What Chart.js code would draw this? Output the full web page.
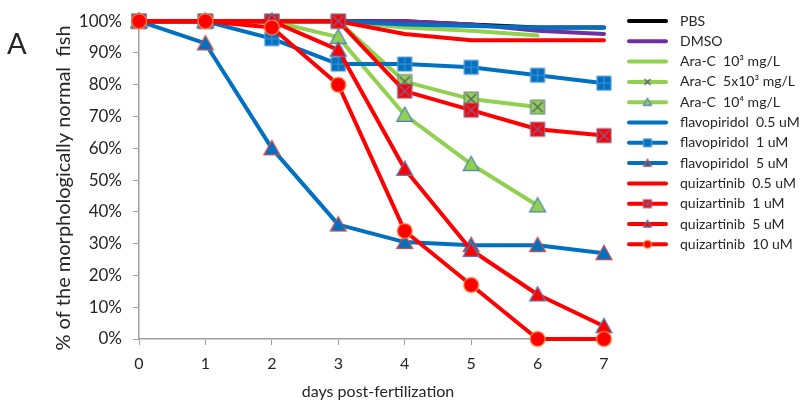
<!DOCTYPE html>
<html>
<head>
<meta charset="utf-8">
<script src="https://cdn.jsdelivr.net/npm/chart.js@4.4.0/dist/chart.umd.min.js"></script>
<style>
  html, body { margin: 0; padding: 0; background: #fff; }
  #wrap { width: 802px; height: 406px; }
</style>
</head>
<body>
<div id="wrap"><canvas id="chart" width="802" height="406"></canvas></div>
<script>
// days post-fertilization (x axis)
const days = [0, 1, 2, 3, 4, 5, 6, 7];

// % of morphologically normal fish
const pbs     = [100, 100, 100, 100, 100, 99, 98, 98];
const dmso    = [100, 100, 100, 100, 100, 99, 97, 96];
const araC1   = [100, 100, 100, 100, 98, 97, 95.5];
const araC5   = [100, 100, 100, 100, 81, 75.5, 73];
const araC10  = [100, 100, 100, 95, 70.5, 55, 42];
const flavo05 = [100, 100, 100, 100, 99, 98.5, 98, 98];
const flavo1  = [100, 100, 94.5, 86.5, 86.5, 85.5, 83, 80.5];
const flavo5  = [100, 93, 60, 36, 30.5, 29.5, 29.5, 27];
const quiz05  = [100, 100, 100, 100, 96, 94, 94, 94];
const quiz1   = [100, 100, 100, 100, 78, 72, 66, 64];
const quiz5   = [100, 100, 100, 91, 53.5, 28, 14, 4];
const quiz10  = [100, 100, 98, 80, 34, 17, 0, 0];

const labels = ['PBS', 'DMSO', 'Ara-C  10³ mg/L', 'Ara-C  5x10³ mg/L', 'Ara-C  10⁴ mg/L',
    'flavopiridol  0.5 uM', 'flavopiridol  1 uM', 'flavopiridol  5 uM',
    'quizartinib  0.5 uM', 'quizartinib  1 uM', 'quizartinib  5 uM', 'quizartinib  10 uM'];

const COLORS = {
    black: '#000000',
    purple: '#7030A0',
    green: '#92D050',
    blue: '#0070C0',
    red: '#FF0000',
    text: '#262626',
    axis: '#A0A0A0',
};

// small canvas markers, used both on the lines and in the legend
function marker(kind, size, fill, stroke, mark) {
    const c = document.createElement('canvas');
    c.width = c.height = Math.ceil(size + 4);
    const g = c.getContext('2d');
    const m = c.width / 2, h = size / 2;
    g.fillStyle = fill;
    g.strokeStyle = stroke;
    g.lineWidth = 1.2;
    g.beginPath();
    if (kind === 'square' || kind === 'xsquare') {
        g.rect(m - h, m - h, size, size);
    } else if (kind === 'triangle') {
        g.moveTo(m, m - h);
        g.lineTo(m + h, m + h * 0.8);
        g.lineTo(m - h, m + h * 0.8);
        g.closePath();
    } else if (kind === 'x') {
        // bare cross, no box
    } else {
        g.arc(m, m, h, 0, Math.PI * 2);
    }
    if (kind !== 'x') { g.fill(); g.stroke(); }
    if (kind === 'xsquare' || kind === 'x') {
        const k = h - 2;
        g.strokeStyle = mark;
        g.lineWidth = 1.5;
        g.beginPath();
        g.moveTo(m - k, m - k); g.lineTo(m + k, m + k);
        g.moveTo(m + k, m - k); g.lineTo(m - k, m + k);
        g.stroke();
    }
    if (kind === 'square' && mark) {
        g.strokeStyle = mark;
        g.lineWidth = 1;
        g.beginPath();
        g.moveTo(m, m - h + 1); g.lineTo(m, m + h - 1);
        g.moveTo(m - h + 1, m); g.lineTo(m + h - 1, m);
        g.stroke();
    }
    return c;
}

const series = [
    { data: pbs, color: COLORS.black },
    { data: dmso, color: COLORS.purple },
    { data: araC1, color: COLORS.green },
    { data: araC5, color: COLORS.green,
      big: marker('xsquare', 14, COLORS.green, '#6f7f8f', '#5a6472'),
      small: marker('x', 10, COLORS.green, '#5a6472', '#5a6472') },
    { data: araC10, color: COLORS.green,
      big: marker('triangle', 16, COLORS.green, '#4F81BD'),
      small: marker('triangle', 8, COLORS.green, '#4F81BD') },
    { data: flavo05, color: COLORS.blue },
    { data: flavo1, color: COLORS.blue,
      big: marker('square', 14, COLORS.blue, '#5B9BD5', '#4d94d6'),
      small: marker('square', 8, COLORS.blue, '#5B9BD5') },
    { data: flavo5, color: COLORS.blue,
      big: marker('triangle', 16, COLORS.blue, '#D0504D'),
      small: marker('triangle', 8, COLORS.blue, '#D0504D') },
    { data: quiz05, color: COLORS.red },
    { data: quiz1, color: COLORS.red,
      big: marker('xsquare', 14, COLORS.red, '#8a6a8a', '#7a5f9a'),
      small: marker('xsquare', 8, COLORS.red, '#8a6a8a', '#7a5f9a') },
    { data: quiz5, color: COLORS.red,
      big: marker('triangle', 16, COLORS.red, '#4F81BD'),
      small: marker('triangle', 8, COLORS.red, '#4F81BD') },
    { data: quiz10, color: COLORS.red,
      big: marker('circle', 15, COLORS.red, '#F79646'),
      small: marker('circle', 8, COLORS.red, '#F79646') },
];

// legend, axis titles and panel letter, drawn on the canvas
const extras = {
    id: 'extras',
    afterDraw(chart) {
        const ctx = chart.ctx;
        ctx.save();
        ctx.textBaseline = 'middle';
        ctx.font = '14px Lato';
        series.forEach((s, i) => {
            const y = 21 + i * 20.3;
            ctx.strokeStyle = s.color;
            ctx.lineWidth = 4;
            ctx.lineCap = 'round';
            ctx.beginPath();
            ctx.moveTo(629, y);
            ctx.lineTo(666, y);
            ctx.stroke();
            if (s.small) ctx.drawImage(s.small, 647.5 - s.small.width / 2, y - s.small.height / 2);
            ctx.fillStyle = COLORS.text;
            ctx.textAlign = 'left';
            ctx.fillText(labels[i], 680, y);
        });

        ctx.fillStyle = COLORS.text;
        ctx.font = '29px Lato';
        ctx.textAlign = 'left';
        ctx.textBaseline = 'alphabetic';
        ctx.fillText('A', 7, 54);

        ctx.font = '16px Lato';
        ctx.textAlign = 'center';
        ctx.textBaseline = 'middle';
        ctx.fillText('days post-fertilization', 378, 392);

        ctx.translate(64, 188);
        ctx.rotate(-Math.PI / 2);
        ctx.font = '20px Lato';
        ctx.fillText('% of the morphologically normal  fish', 0, 0);
        ctx.restore();
    }
};

const ctx = document.getElementById('chart');
new Chart(ctx, {
    type: 'line',
    data: {
        labels: days,
        datasets: series.map((s, i) => ({
            label: labels[i],
            data: s.data,
            borderColor: s.color,
            backgroundColor: s.color,
            borderWidth: 4,
            borderJoinStyle: 'round',
            borderCapStyle: 'round',
            tension: 0,
            fill: false,
            clip: false,
            order: -i,
            pointStyle: s.big || 'circle',
            pointRadius: s.big ? 7 : 0,
            pointHoverRadius: s.big ? 7 : 0,
        }))
    },
    options: {
        responsive: false,
        animation: false,
        events: [],
        layout: { padding: { top: 13, right: 198, left: 0, bottom: 0 } },
        plugins: {
            legend: { display: false },
            tooltip: { enabled: false }
        },
        scales: {
            x: {
                offset: false,
                afterFit: (s) => { s.height = 67; },
                grid: { drawOnChartArea: false, drawTicks: true, tickLength: 6, color: COLORS.axis },
                border: { color: COLORS.axis, width: 1.5 },
                ticks: { color: COLORS.text, font: { family: 'Lato', size: 16 }, padding: 9, maxRotation: 0 }
            },
            y: {
                min: 0,
                max: 100,
                afterFit: (s) => { s.width = 139; },
                grid: { drawOnChartArea: false, drawTicks: true, tickLength: 6, color: COLORS.axis },
                border: { color: COLORS.axis, width: 1.5 },
                ticks: {
                    stepSize: 10,
                    color: COLORS.text,
                    font: { family: 'Lato', size: 17 },
                    padding: 11,
                    callback: (v) => v + '%'
                }
            }
        }
    },
    plugins: [extras]
});
</script>
</body>
</html>
